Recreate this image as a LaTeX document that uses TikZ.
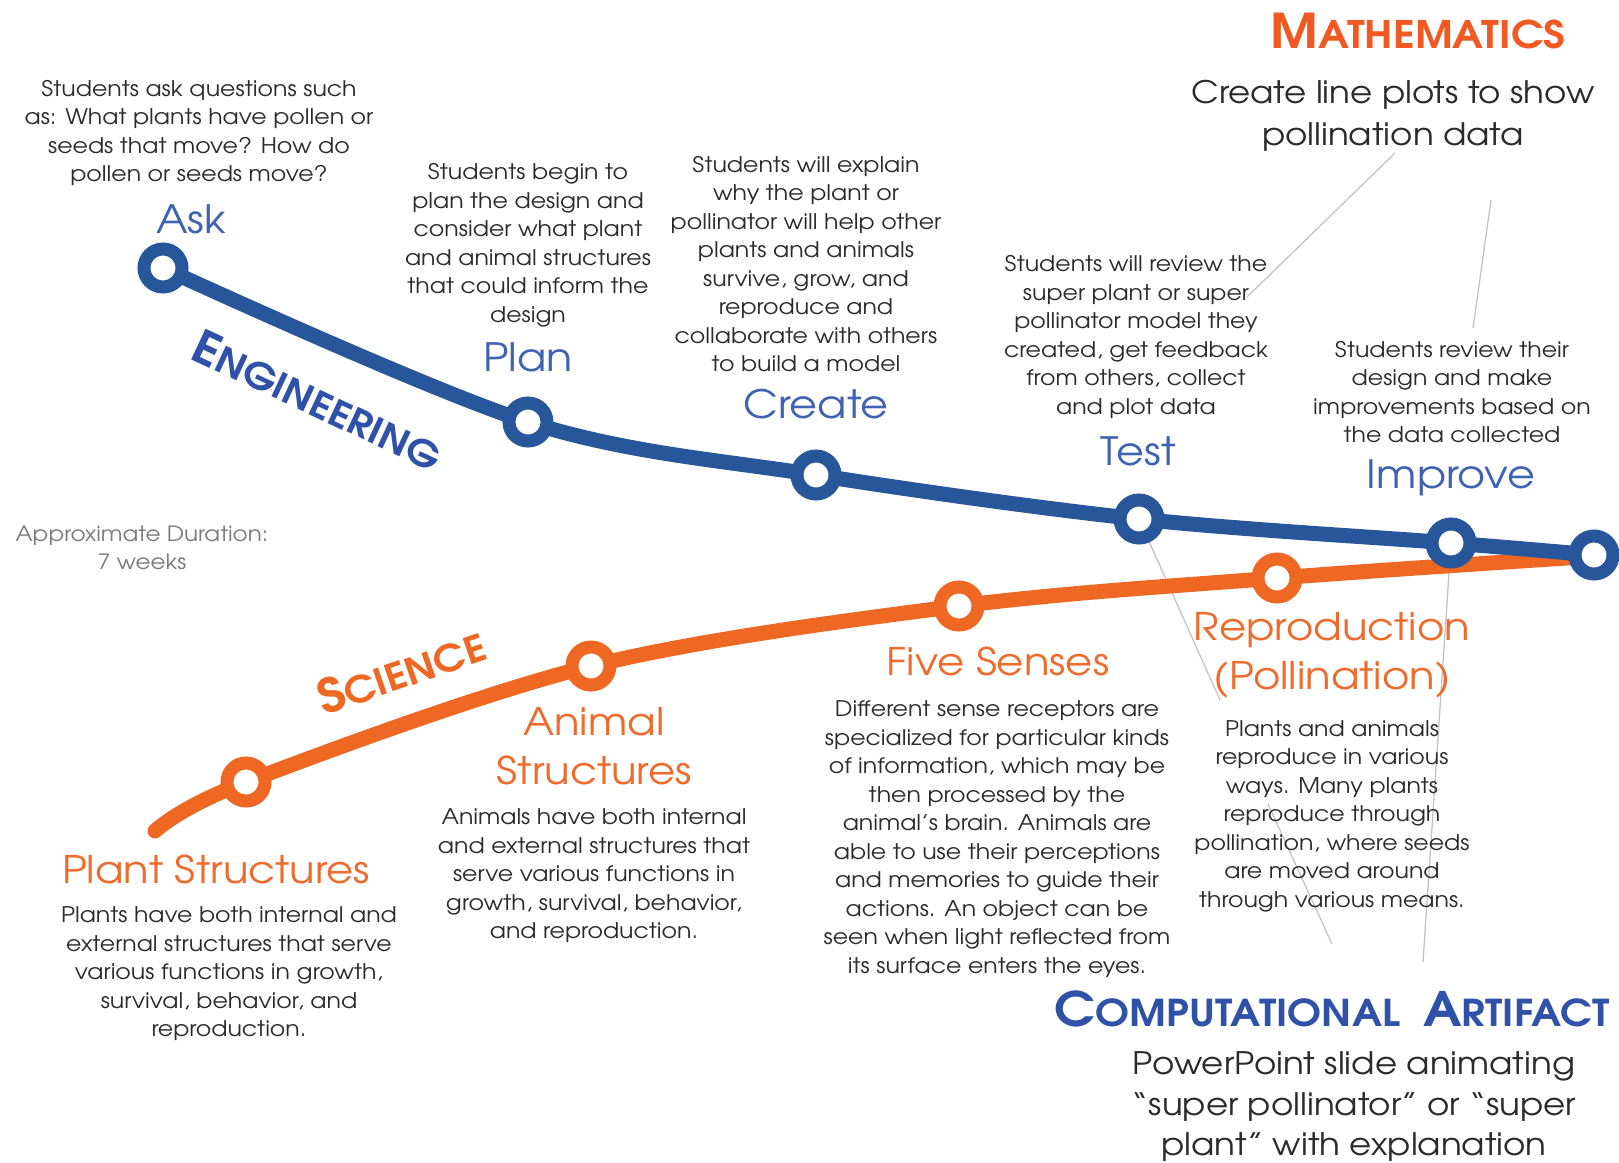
\documentclass[tikz,border=0pt]{standalone}
\usepackage{fontspec}
\setmainfont{TeX Gyre Adventor}[FakeStretch=1.1]
\usetikzlibrary{calc}
\definecolor{engline}{HTML}{27569A}
\definecolor{englabel}{HTML}{3F62B3}
\definecolor{engtitle}{HTML}{2F52A8}
\definecolor{sciline}{HTML}{EE6823}
\definecolor{scilabel}{HTML}{EF6B2C}
\definecolor{mathcol}{HTML}{F05A22}
\definecolor{txtgray}{HTML}{2B2B2B}
\definecolor{durgray}{HTML}{7A7A7A}
\definecolor{callout}{HTML}{C4C4C4}
\tikzset{
  desc/.style={font=\fontsize{21.5}{28.5}\selectfont, text=txtgray, align=center, inner sep=0pt},
  bigdesc/.style={font=\fontsize{31}{41.5}\selectfont, text=txtgray, align=center, inner sep=0pt},
  englab/.style={font=\fontsize{39}{48}\selectfont, text=englabel, inner sep=0pt},
  scilab/.style={font=\fontsize{38}{48.5}\selectfont, text=scilabel, align=center, inner sep=0pt},
  bcirc/.style={circle, draw=engline, line width=13pt, fill=white, minimum size=38pt, inner sep=0pt},
  ocirc/.style={circle, draw=sciline, line width=13pt, fill=white, minimum size=38pt, inner sep=0pt},
  bluepath/.style={draw=engline, line width=15pt},
  orangepath/.style={draw=sciline, line width=15pt},
  callline/.style={draw=callout, line width=1.3pt},
}
\begin{document}
\begin{tikzpicture}[x=1pt,y=-1pt]
\useasboundingbox[fill=white] (0,0) rectangle (1619,1162);
% anchor points
\coordinate (ask) at (163,268);
\coordinate (plan) at (528,422);
\coordinate (create) at (816,475);
\coordinate (test) at (1139,519);
\coordinate (improve) at (1451,543);
\coordinate (finish) at (1594,555);
\coordinate (ostart) at (155,831);
\coordinate (plant) at (246,782);
\coordinate (animal) at (591,666);
\coordinate (five) at (959,606);
\coordinate (repro) at (1277,578);
\coordinate (oend) at (1582,557);
% callout coordinates
\coordinate (m1a) at (1395,153);
\coordinate (m1b) at (1247,297);
\coordinate (m2a) at (1491,200);
\coordinate (m2b) at (1473,328);
\coordinate (tcut1) at (1220,700);
\coordinate (tcut2) at (1268,804);
\coordinate (tend) at (1332,944);
\coordinate (iend) at (1423,962);
% callout lines
\draw[callline] (m1a) -- (m1b);
\draw[callline] (m2a) -- (m2b);
\draw[callline] (test) -- (tcut1);
\draw[callline] (tcut2) -- (tend);
\draw[callline] (improve) -- (iend);
% science path
\draw[orangepath, line cap=round] plot[smooth, tension=0.55] coordinates {(ostart) (plant) (animal) (five) (repro) (oend)};
\foreach \n in {plant,animal,five,repro} \node[ocirc] (\n c) at (\n) {};
% engineering path
\draw[bluepath] plot[smooth, tension=0.55] coordinates {(ask) (plan) (create) (test) (improve) (finish)};
\foreach \n in {ask,plan,create,test,improve,finish} \node[bcirc] (\n c) at (\n) {};
% engineering texts
\node[desc] (askd) at (199,133) {Students ask questions such\\as: What plants have pollen or\\seeds that move? How do\\pollen or seeds move?};
\node[englab] (askl) at (191,219) {Ask};
\node[desc] (pland) at (528,245) {Students begin to\\plan the design and\\consider what plant\\and animal structures\\that could inform the\\design};
\node[englab] (planl) at (528,357) {Plan};
\node[desc] (created) at (806,264) {Students will explain\\why the plant or\\pollinator will help other\\plants and animals\\survive, grow, and\\reproduce and\\collaborate with others\\to build a model};
\node[englab] (createl) at (816,404) {Create};
\node[desc] (testd) at (1136,337) {Students will review the\\super plant or super\\pollinator model they\\created, get feedback\\from others, collect\\and plot data};
\node[englab] (testl) at (1138,451) {Test};
\node[desc] (improved) at (1452,392) {Students review their\\design and make\\improvements based on\\the data collected};
\node[englab] (improvel) at (1451,478) {Improve};
% titles
\node[text=mathcol, font=\bfseries, inner sep=0pt] (math) at (1418,31) {{\fontsize{48}{48}\selectfont M}{\fontsize{38}{38}\selectfont ATHEMATICS}};
\node[bigdesc] (mathd) at (1393,116) {Create line plots to show\\pollination data};
\node[text=engtitle, font=\bfseries, inner sep=0pt, rotate=-25] (eng) at (318,400) {{\fontsize{46}{46}\selectfont E}{\fontsize{36.5}{36.5}\selectfont NGINEERING}};
\node[text=sciline, font=\bfseries, inner sep=0pt, rotate=19] (sci) at (401,671) {{\fontsize{47}{47}\selectfont S}{\fontsize{37}{37}\selectfont CIENCE}};
\node[font=\fontsize{21}{28}\selectfont, text=durgray, align=center, inner sep=0pt] (dur) at (142,548) {Approximate Duration:\\7 weeks};
% science texts
\node[scilab] (plantl) at (216,869) {Plant Structures};
\node[desc] (plantd) at (229,974) {Plants have both internal and\\external structures that serve\\various functions in growth,\\survival, behavior, and\\reproduction.};
\node[scilab] (animall) at (594,746) {Animal\\Structures};
\node[desc] (animald) at (594,876) {Animals have both internal\\and external structures that\\serve various functions in\\growth, survival, behavior,\\and reproduction.};
\node[scilab] (fivel) at (998,661) {Five Senses};
\node[desc] (fived) at (997,839) {Different sense receptors are\\specialized for particular kinds\\of information, which may be\\then processed by the\\animal’s brain. Animals are\\able to use their perceptions\\and memories to guide their\\actions. An object can be\\seen when light reflected from\\its surface enters the eyes.};
\node[scilab] (reprol) at (1332,655) {Reproduction\\(Pollination)};
\node[desc] (reprod) at (1332,816) {Plants and animals\\reproduce in various\\ways. Many plants\\reproduce through\\pollination, where seeds\\are moved around\\through various means.};
% computational artifact
\node[text=engtitle, font=\bfseries, inner sep=0pt] (comp) at (1332,1009) {{\fontsize{47.5}{47.5}\selectfont C}{\fontsize{37}{37}\selectfont OMPUTATIONAL}\hspace{23pt}{\fontsize{47.5}{47.5}\selectfont A}{\fontsize{37}{37}\selectfont RTIFACT}};
\node[bigdesc, font=\fontsize{31}{40.5}\selectfont] (compd) at (1354,1107) {PowerPoint slide animating\\“super pollinator” or “super\\plant” with explanation};
\end{tikzpicture}
\end{document}
